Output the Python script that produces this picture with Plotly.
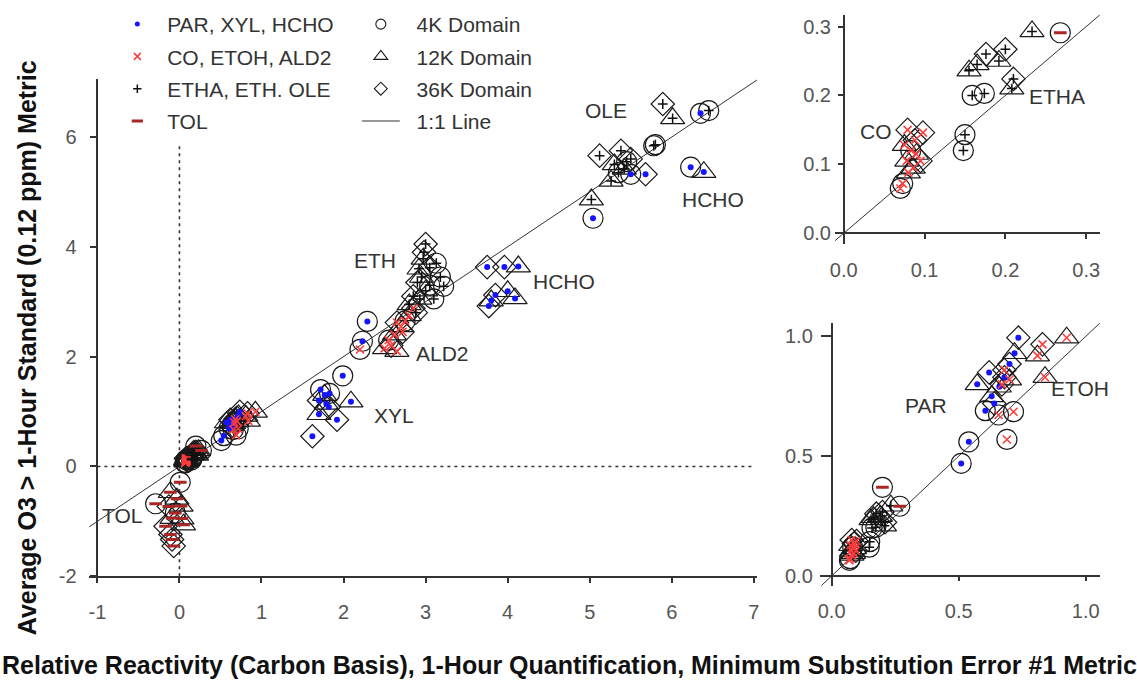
import plotly.graph_objects as go

W, H = 1137, 689
FONT = "Liberation Sans, Arial, sans-serif"

# ---------------- data (x: relative reactivity, y: O3 metric) ----------------
PAR_X = [0.735, 0.72, 0.70, 0.62, 0.573, 0.63, 0.605, 0.54, 0.51, 0.66, 0.68, 0.64]
PAR_Y = [0.995, 0.93, 0.885, 0.85, 0.80, 0.75, 0.69, 0.56, 0.47, 0.79, 0.83, 0.72]
PAR_DOM = ["36K", "12K", "36K", "36K", "12K", "12K", "4K", "4K", "4K", "12K", "36K", "36K"]

XYL_X = [1.99, 1.72, 1.83, 1.77, 1.70, 1.79, 1.70, 1.82, 2.09, 1.92, 1.62, 2.29, 2.23]
XYL_Y = [1.65, 1.40, 1.33, 1.30, 1.20, 1.14, 0.95, 1.08, 1.18, 0.85, 0.55, 2.64, 2.28]
XYL_DOM = ["4K", "4K", "4K", "12K", "36K", "12K", "12K", "36K", "12K", "36K", "36K", "4K", "4K"]

HCHO_X = [6.35, 5.50, 5.68, 5.04, 6.23, 6.39, 3.75, 3.96, 4.13, 3.77, 3.80, 3.85, 4.00, 4.09]
HCHO_Y = [6.43, 5.32, 5.32, 4.52, 5.45, 5.36, 3.63, 3.63, 3.64, 2.92, 3.02, 3.12, 3.19, 3.06]
HCHO_DOM = ["4K", "4K", "36K", "4K", "4K", "12K", "36K", "36K", "12K", "36K", "12K", "36K", "12K", "12K"]

CO_X = [0.079, 0.098, 0.075, 0.090, 0.083, 0.078, 0.088, 0.073, 0.070, 0.086, 0.095, 0.080]
CO_Y = [0.150, 0.146, 0.128, 0.115, 0.120, 0.105, 0.135, 0.072, 0.065, 0.095, 0.105, 0.088]
CO_DOM = ["36K", "36K", "12K", "12K", "4K", "12K", "36K", "4K", "4K", "12K", "36K", "12K"]

ETOH_X = [0.925, 0.83, 0.81, 0.84, 0.716, 0.657, 0.69, 0.67, 0.70, 0.68]
ETOH_Y = [0.995, 0.967, 0.92, 0.83, 0.686, 0.672, 0.57, 0.80, 0.82, 0.86]
ETOH_DOM = ["12K", "36K", "12K", "12K", "4K", "4K", "4K", "36K", "12K", "36K"]

ALD2_X = [2.85, 2.80, 2.75, 2.70, 2.65, 2.62, 2.55, 2.58, 2.65, 2.50, 2.20, 2.72]
ALD2_Y = [2.88, 2.75, 2.65, 2.55, 2.62, 2.40, 2.30, 2.20, 2.10, 2.15, 2.13, 2.45]
ALD2_DOM = ["36K", "12K", "4K", "12K", "36K", "12K", "4K", "36K", "12K", "12K", "4K", "36K"]

ETHA_X = [0.233, 0.176, 0.200, 0.192, 0.155, 0.165, 0.210, 0.208, 0.159, 0.174, 0.150, 0.148]
ETHA_Y = [0.293, 0.260, 0.267, 0.250, 0.236, 0.245, 0.224, 0.210, 0.200, 0.203, 0.143, 0.120]
ETHA_DOM = ["12K", "36K", "36K", "12K", "12K", "12K", "36K", "12K", "4K", "4K", "4K", "4K"]

ETH_X = [3.00, 2.98, 2.97, 3.13, 2.92, 3.05, 3.18, 2.95, 2.90, 3.05, 3.00, 3.22, 2.85, 2.93, 3.10, 2.80, 2.88]
ETH_Y = [4.05, 3.90, 3.78, 3.70, 3.60, 3.62, 3.45, 3.45, 3.35, 3.30, 3.20, 3.28, 3.10, 3.05, 3.05, 2.95, 2.80]
ETH_DOM = ["36K", "36K", "12K", "4K", "12K", "36K", "4K", "12K", "36K", "4K", "12K", "4K", "36K", "12K", "4K", "12K", "36K"]

OLE_X = [5.89, 6.01, 6.45, 5.78, 5.80, 5.12, 5.38, 5.30, 5.45, 5.42, 5.35, 5.26, 5.02, 5.50]
OLE_Y = [6.60, 6.34, 6.48, 5.84, 5.86, 5.66, 5.75, 5.50, 5.55, 5.42, 5.35, 5.20, 4.86, 5.60]
OLE_DOM = ["36K", "12K", "4K", "4K", "4K", "36K", "36K", "12K", "4K", "12K", "4K", "12K", "12K", "36K"]

TOL_X = [0.268, 0.20, 0.01, -0.29, -0.11, -0.03, -0.13, 0.02, -0.09, 0.03, -0.17, -0.11, -0.09, -0.07, 0.05, -0.05]
TOL_Y = [0.291, 0.37, -0.29, -0.68, -0.47, -0.59, -0.73, -0.72, -0.94, -0.95, -1.09, -1.24, -1.33, -1.45, -1.06, -0.85]
TOL_DOM = ["4K", "4K", "4K", "4K", "12K", "12K", "36K", "12K", "12K", "12K", "36K", "36K", "36K", "36K", "12K", "4K"]

SPECIES = {
    "PAR": (PAR_X, PAR_Y, PAR_DOM), "XYL": (XYL_X, XYL_Y, XYL_DOM), "HCHO": (HCHO_X, HCHO_Y, HCHO_DOM),
    "CO": (CO_X, CO_Y, CO_DOM), "ETOH": (ETOH_X, ETOH_Y, ETOH_DOM), "ALD2": (ALD2_X, ALD2_Y, ALD2_DOM),
    "ETHA": (ETHA_X, ETHA_Y, ETHA_DOM), "ETH": (ETH_X, ETH_Y, ETH_DOM), "OLE": (OLE_X, OLE_Y, OLE_DOM),
    "TOL": (TOL_X, TOL_Y, TOL_DOM),
}

GROUP_NAMES = ["PAR, XYL, HCHO", "CO, ETOH, ALD2", "ETHA, ETH. OLE", "TOL"]
GROUP_MEMBERS = [["PAR", "XYL", "HCHO"], ["CO", "ETOH", "ALD2"], ["ETHA", "ETH", "OLE"], ["TOL"]]
DOMAINS = ["4K", "12K", "36K"]
DOMAIN_NAMES = ["4K Domain", "12K Domain", "36K Domain"]
LINE_NAME = "1:1 Line"

# ---------------- styling ----------------
GROUP_STYLE = [
    dict(symbol="circle", color="#1414ff", size=6, lw=0),
    dict(symbol="x-thin-open", color="#ff3b3b", size=8, lw=1.5),
    dict(symbol="cross-thin-open", color="#111111", size=7, lw=1.5),
    dict(symbol="line-ew-open", color="#a82626", size=9, lw=3),
]
DOMAIN_STYLE = [
    dict(symbol="circle-open", size=20, leg=10),
    dict(symbol="triangle-up-open", size=21, leg=12),
    dict(symbol="diamond-open", size=18, leg=10),
]
OUTLINE = "#1a1a1a"
NBSP = "\u00a0"

# panels: axis ids, ranges, whether to keep only non-negative points in range
MAIN_XR, MAIN_YR = [-1.1, 7.04], [-2.0, 7.05]
TOP_XR, TOP_YR = [-0.011, 0.317], [-0.016, 0.317]
BOT_XR, BOT_YR = [-0.046, 1.056], [-0.04, 1.056]
PANELS = [
    ("x", "y", MAIN_XR, MAIN_YR, False),
    ("x2", "y2", TOP_XR, TOP_YR, True),
    ("x3", "y3", BOT_XR, BOT_YR, True),
]


def points(names, xr, yr, inset):
    xs, ys, ds = [], [], []
    for n in names:
        sx, sy, sd = SPECIES[n]
        for a, b, d in zip(sx, sy, sd):
            if inset and not (0 <= a <= xr[1] and 0 <= b <= yr[1]):
                continue
            xs.append(a)
            ys.append(b)
            ds.append(d)
    return xs, ys, ds


fig = go.Figure()
all_names = [n for g in GROUP_MEMBERS for n in g]

for xa, ya, xr, yr, inset in PANELS:
    # 1:1 reference line
    fig.add_trace(go.Scatter(
        x=[xr[0], xr[1]], y=[xr[0], xr[1]], mode="lines", xaxis=xa, yaxis=ya,
        line=dict(color="#333333", width=1), showlegend=(xa == "x"),
        name=NBSP * 2 + LINE_NAME, legend="legend2", legendgroup="line", legendrank=4,
        hoverinfo="skip"))
    # domain outlines
    xs, ys, ds = points(all_names, xr, yr, inset)
    for dom, st in zip(DOMAINS, DOMAIN_STYLE):
        fx = [a for a, d in zip(xs, ds) if d == dom]
        fy = [b for b, d in zip(ys, ds) if d == dom]
        fig.add_trace(go.Scatter(
            x=fx, y=fy, mode="markers", xaxis=xa, yaxis=ya, showlegend=False,
            marker=dict(symbol=st["symbol"], size=st["size"], color=OUTLINE,
                        line=dict(width=1.2, color=OUTLINE))))
    # species markers inside the outlines
    for members, st in zip(GROUP_MEMBERS, GROUP_STYLE):
        gx, gy, _ = points(members, xr, yr, inset)
        fig.add_trace(go.Scatter(
            x=gx, y=gy, mode="markers", xaxis=xa, yaxis=ya, showlegend=False,
            marker=dict(symbol=st["symbol"], size=st["size"], color=st["color"],
                        line=dict(width=st["lw"], color=st["color"]))))

# legend keys
for rank, (gname, st) in enumerate(zip(GROUP_NAMES, GROUP_STYLE), start=1):
    fig.add_trace(go.Scatter(
        x=[None], y=[None], mode="markers", name=NBSP + gname, legend="legend", legendgroup=gname,
        legendrank=rank,
        marker=dict(symbol=st["symbol"], size=max(st["size"] - 1, 5), color=st["color"],
                    line=dict(width=st["lw"], color=st["color"]))))
for rank, (dname, st) in enumerate(zip(DOMAIN_NAMES, DOMAIN_STYLE), start=1):
    fig.add_trace(go.Scatter(
        x=[None], y=[None], mode="markers", name=NBSP * 2 + dname, legend="legend2",
        legendgroup=dname, legendrank=rank,
        marker=dict(symbol=st["symbol"], size=st["leg"], color=OUTLINE,
                    line=dict(width=1.1, color=OUTLINE))))

# dotted zero lines on the main panel
dot = dict(color="#333333", width=1.6, dash="3px,4px")
fig.add_shape(type="line", xref="x", yref="y", x0=0, x1=0, y0=-2, y1=5.85, line=dot, layer="below")
fig.add_shape(type="line", xref="x", yref="y", x0=-1, x1=7, y0=0, y1=0, line=dot, layer="below")

tickfont = dict(family=FONT, size=20, color="#555555")
axis_common = dict(showgrid=False, zeroline=False, showline=True, linecolor="#333333", linewidth=1.6,
                   ticks="outside", ticklen=5, tickwidth=1.5, tickcolor="#333333", tickfont=tickfont,
                   tickmode="array")


def px_x(p):
    return p / W


def px_y(p):
    return 1 - p / H


MAIN_X_TICKS = [-1, 0, 1, 2, 3, 4, 5, 6, 7]
MAIN_Y_TICKS = [-2, 0, 2, 4, 6]
TOP_TICKS = [0.0, 0.1, 0.2, 0.3]
BOT_TICKS = [0.0, 0.5, 1.0]

legend_common = dict(xanchor="left", yanchor="top", bgcolor="rgba(0,0,0,0)",
                     font=dict(family=FONT, size=21, color="#333333"), tracegroupgap=2,
                     traceorder="grouped", itemclick=False, itemwidth=38)

fig.update_layout(
    width=W, height=H, margin=dict(l=0, r=0, t=0, b=0),
    paper_bgcolor="white", plot_bgcolor="rgba(0,0,0,0)",
    font=dict(family=FONT, size=20, color="#333333"),
    xaxis=dict(axis_common, domain=[px_x(84.7), px_x(756.8)], range=MAIN_XR, anchor="y",
               tickvals=MAIN_X_TICKS, ticktext=[str(v) for v in MAIN_X_TICKS], ticklabelstandoff=12),
    yaxis=dict(axis_common, domain=[px_y(585.6), px_y(80.6)], range=MAIN_YR, anchor="free",
               position=px_x(93), tickvals=MAIN_Y_TICKS, ticktext=[str(v) for v in MAIN_Y_TICKS],
               ticklen=7, ticklabelstandoff=9),
    xaxis2=dict(axis_common, domain=[px_x(835), px_x(1101.7)], range=TOP_XR, anchor="free",
                position=px_y(237), tickvals=TOP_TICKS, ticktext=[f"{v:.1f}" for v in TOP_TICKS],
                ticklabelstandoff=14),
    yaxis2=dict(axis_common, domain=[px_y(248.2), px_y(15.1)], range=TOP_YR, anchor="free",
                position=px_x(844), tickvals=TOP_TICKS, ticktext=[f"{v:.1f}" for v in TOP_TICKS],
                ticklabelstandoff=3),
    xaxis3=dict(axis_common, domain=[px_x(820), px_x(1101.7)], range=BOT_XR, anchor="free",
                position=px_y(585), tickvals=BOT_TICKS, ticktext=[f"{v:.1f}" for v in BOT_TICKS],
                ticklabelstandoff=13),
    yaxis3=dict(axis_common, domain=[px_y(595), px_y(328.3)], range=BOT_YR, anchor="free",
                position=px_x(831.7), tickvals=BOT_TICKS, ticktext=[f"{v:.1f}" for v in BOT_TICKS],
                ticklen=10, ticklabelstandoff=4),
    legend=dict(legend_common, x=px_x(109), y=px_y(4)),
    legend2=dict(legend_common, x=px_x(354), y=px_y(4)),
    showlegend=True,
)

# cluster labels
LABELS = [
    ("OLE", "x", "y", 5.20, 6.49), ("HCHO", "x", "y", 6.50, 4.87), ("ETH", "x", "y", 2.38, 3.75),
    ("HCHO", "x", "y", 4.69, 3.37), ("ALD2", "x", "y", 3.20, 2.06), ("XYL", "x", "y", 2.62, 0.93),
    ("TOL", "x", "y", -0.70, -0.90),
    ("CO", "x2", "y2", 0.040, 0.148), ("ETHA", "x2", "y2", 0.264, 0.198),
    ("PAR", "x3", "y3", 0.371, 0.713), ("ETOH", "x3", "y3", 0.978, 0.782),
]
for txt, xr_, yr_, lx, ly in LABELS:
    fig.add_annotation(text=txt, xref=xr_, yref=yr_, x=lx, y=ly, showarrow=False,
                       xanchor="center", yanchor="middle",
                       font=dict(family=FONT, size=21, color="#333333"))

# axis titles
fig.add_annotation(text="<b>Average O3 > 1-Hour Standard (0.12 ppm) Metric</b>", xref="paper", yref="paper",
                   x=px_x(22), y=px_y(353), textangle=-90, showarrow=False,
                   xanchor="center", yanchor="middle",
                   font=dict(family=FONT, size=25, color="#111111"))
fig.add_annotation(text="<b>Relative Reactivity (Carbon Basis), 1-Hour Quantification, Minimum Substitution Error #1 Metric</b>",
                   xref="paper", yref="paper", x=px_x(568), y=px_y(676), showarrow=False,
                   xanchor="center", yanchor="middle",
                   font=dict(family=FONT, size=25, color="#111111"))

fig.write_html("out.html")
